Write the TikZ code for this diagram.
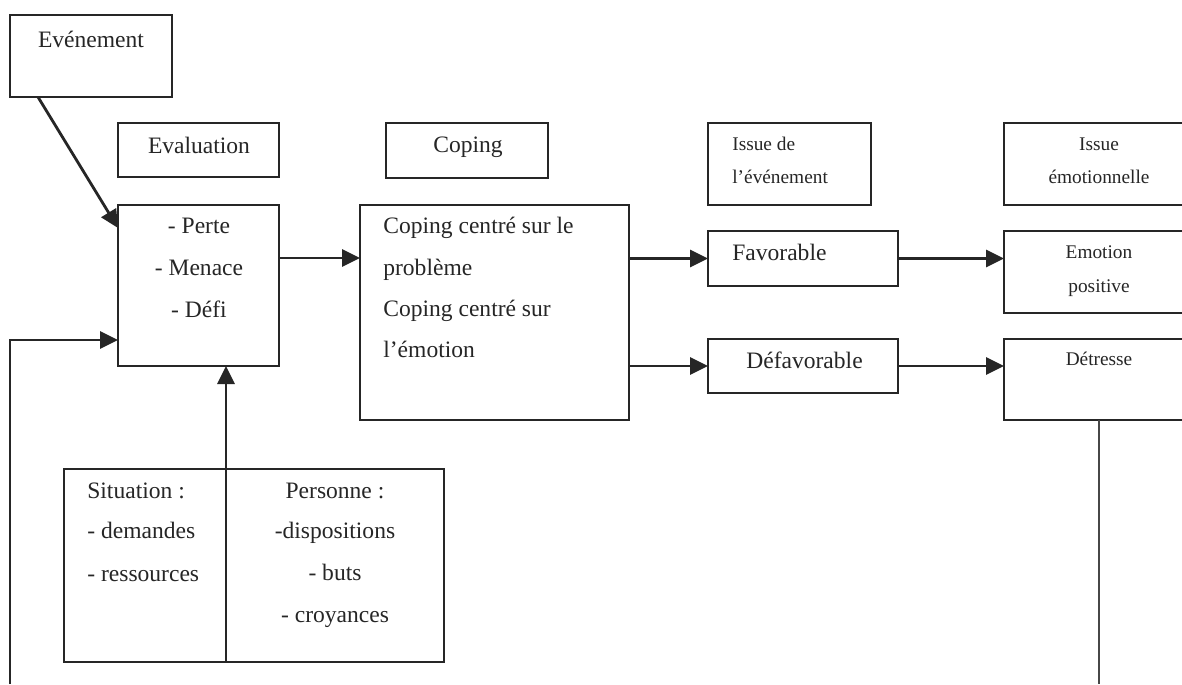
\documentclass[tikz,border=0pt]{standalone}
\usepackage{fontspec}
\setmainfont{Liberation Serif}
\usetikzlibrary{arrows.meta}
\definecolor{ink}{HTML}{262626}
\begin{document}
\begin{tikzpicture}[x=0.02cm,y=-0.02cm,
  box/.style={draw=ink,line width=1.6pt,inner sep=0pt,outer sep=0pt},
  wh/.style 2 args={minimum width=#1*0.02cm,minimum height=#2*0.02cm},
  big/.style={font=\fontsize{13.4}{16}\selectfont,text=ink,inner sep=0pt},
  small/.style={font=\fontsize{11}{13}\selectfont,text=ink,inner sep=0pt},
  conn/.style={draw=ink,line width=1.6pt},
  thin/.style={draw=ink!85,line width=1.2pt},
  arr/.style={conn,-{Triangle[length=0.36cm,width=0.34cm]}},
]
\useasboundingbox (0,0) rectangle (1182,684);
\clip (0,0) rectangle (1182,684);
\fill[white] (0,0) rectangle (1182,684);

% boxes
\node[box,wh={162}{82}]  (evt)   at (91,56) {};
\node[box,wh={161}{54}]  (evalT) at (198.5,150) {};
\node[box,wh={161}{161}] (evalB) at (198.5,285.5) {};
\node[box,wh={162}{55}]  (copT)  at (467,150.5) {};
\node[box,wh={269}{215}] (copB)  at (494.5,312.5) {};
\node[box,wh={163}{82}]  (issT)  at (789.5,164) {};
\node[box,wh={190}{55}]  (fav)   at (803,258.5) {};
\node[box,wh={190}{54}]  (def)   at (803,366) {};
\node[box,wh={190}{82}]  (emoT)  at (1099,164) {};
\node[box,wh={190}{82}]  (emoP)  at (1099,272) {};
\node[box,wh={190}{81}]  (det)   at (1099,379.5) {};
\node[box,wh={380}{193}] (sit)   at (254,565.5) {};

% texts
\node[big,anchor=base] (tEvt) at (91,47) {Evénement};
\node[big,anchor=base] (tEval) at (199,153) {Evaluation};
\node[big,anchor=base] (tP1) at (199,233) {- Perte};
\node[big,anchor=base] (tP2) at (199,275) {- Menace};
\node[big,anchor=base] (tP3) at (199,317) {- Défi};
\node[big,anchor=base] (tCop) at (468,152) {Coping};
\node[big,anchor=base west] (tC1) at (383,233) {Coping centré sur le};
\node[big,anchor=base west] (tC2) at (383,275) {problème};
\node[big,anchor=base west] (tC3) at (383,316) {Coping centré sur};
\node[big,anchor=base west] (tC4) at (383,357) {l’émotion};
\node[small,anchor=base west] (tI1) at (732,150) {Issue de};
\node[small,anchor=base west] (tI2) at (732,183) {l’événement};
\node[big,anchor=base west] (tFav) at (732,260) {Favorable};
\node[big,anchor=base west] (tDef) at (746,368) {Défavorable};
\node[small,anchor=base] (tE1) at (1099,150) {Issue};
\node[small,anchor=base] (tE2) at (1099,183) {émotionnelle};
\node[small,anchor=base] (tE3) at (1099,258) {Emotion};
\node[small,anchor=base] (tE4) at (1099,292) {positive};
\node[small,anchor=base] (tE5) at (1099,365) {Détresse};
\node[big,anchor=base west] (tS1) at (87,498) {Situation :};
\node[big,anchor=base west] (tS2) at (87,538) {- demandes};
\node[big,anchor=base west] (tS3) at (87,581) {- ressources};
\node[big,anchor=base] (tR1) at (335,498) {Personne :};
\node[big,anchor=base] (tR2) at (335,538) {-dispositions};
\node[big,anchor=base] (tR3) at (335,580) {- buts};
\node[big,anchor=base] (tR4) at (335,622) {- croyances};

% connectors
\draw[arr] ([xshift=0.56cm]evt.south west) -- ([yshift=-0.46cm]evalB.north west);
\coordinate (fbL) at (10,684);
\draw[arr] (fbL) |- ([yshift=-1.09cm]evalB.west);
\draw[arr] ([yshift=0.55cm]evalB.east) coordinate (a1) -- (a1 -| copB.west);
\draw[arr] (fav.west -| copB.east) -- (fav.west);
\draw[arr] (def.west -| copB.east) -- (def.west);
\draw[arr] (fav.east) -- (fav.east -| emoP.west);
\draw[arr] (def.east) -- (def.east -| det.west);
\coordinate (fbR) at (1099,684);
\draw[thin] (det.south) -- (fbR);
\path (sit.south west) ++(162,0) coordinate (dv);
\draw[arr] (dv) -- (dv |- evalB.south);
\end{tikzpicture}
\end{document}
